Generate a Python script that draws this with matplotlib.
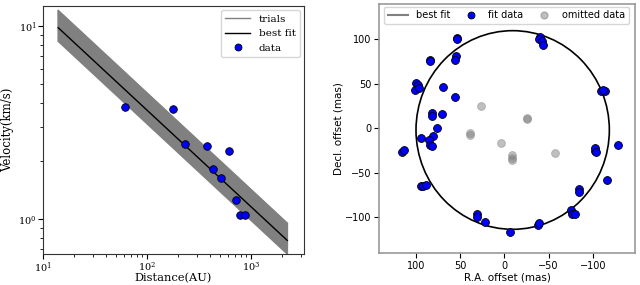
import numpy as np
import matplotlib
matplotlib.use("Agg")
import matplotlib.pyplot as plt
from matplotlib.lines import Line2D
from matplotlib.patches import Ellipse

# ---- left panel data ----
dist_au = [61.8, 176.6, 233, 375, 618, 428, 510, 722, 778, 875]
vel_kms = [3.82, 3.70, 2.45, 2.40, 2.25, 1.81, 1.63, 1.25, 1.05, 1.05]
fit_coef = 36.7          # v = coef * r^-0.5
fit_index = -0.5
trial_factors = np.linspace(0.85, 1.23, 40)
r_range = [14, 2240]

# ---- right panel data ----
fit_ra = [53.6, 54.0, 84.5, 83.8, 55.1, 55.8, 99.6, 97.7, 100.8, 96.2, 69.8, 56.2,
          81.5, 82.3, 70.2, 76.2, 94.3, 80.4, 85.3, 84.2, 81.9, 115.8, 113.2,
          94.7, 91.7, 88.7, 30.9, 30.6, 21.5, -6.8, -38.1, -39.6, -75.8, -77.0,
          -80.4, -84.9, -84.2, -102.6, -103.0, -103.8, -128.7, -116.2, -109.4,
          -114.3, -112.0, -40.4, -39.6, -42.6, -43.4]
fit_dec = [101.1, 100.0, 76.4, 75.6, 81.2, 76.4, 50.5, 48.6, 42.6, 44.8, 46.0, 34.7,
           16.7, 14.1, 16.3, -0.2, -11.4, -9.2, -13.3, -19.3, -19.7, -26.5, -24.2,
           -65.5, -65.1, -64.0, -96.2, -100.0, -106.0, -117.3, -109.0, -106.4,
           -92.1, -96.2, -96.6, -68.9, -71.5, -25.3, -22.7, -27.2, -18.9, -58.7,
           42.2, 41.8, 43.0, 102.6, 100.0, 98.5, 94.0]
omit_ra = [26.0, 4.2, -57.4, 38.5, 38.7, -25.7, -25.9, -8.3, -8.3, -8.2]
omit_dec = [24.6, -16.3, -28.0, -5.8, -8.1, 11.1, 10.0, -30.6, -33.6, -35.5]
circ_center = (-9.4, -2.1)
circ_width = 218.8
circ_height = 223.6

plt.rcParams['mathtext.fontset'] = 'dejavuserif'
fig = plt.figure(figsize=(6.4, 2.85), dpi=100)

# ---------------- left ----------------
ax1 = fig.add_axes([0.0672, 0.1088, 0.4078, 0.870])
r = np.logspace(np.log10(r_range[0]), np.log10(r_range[1]), 50)
for f in trial_factors:
    ax1.plot(r, fit_coef * f * r ** fit_index, color='gray', lw=1.0, zorder=1)
ax1.plot(r, fit_coef * r ** fit_index, color='black', lw=1.0, zorder=2)
ax1.scatter(dist_au, vel_kms, s=30, color='blue', edgecolor='black', lw=0.6, zorder=3)
ax1.set_xscale('log')
ax1.set_yscale('log')
ax1.set_xlim(10, 3240)
ax1.set_ylim(0.66, 12.7)
serif = {'family': 'DejaVu Serif'}
ax1.set_xlabel('Distance(AU)', fontsize=8.2, fontdict=serif)
ax1.set_ylabel('Velocity(km/s)', fontsize=8.5, fontdict=serif)
ax1.xaxis.set_label_coords(0.5, -0.077)
ax1.yaxis.set_label_coords(-0.11, 0.5)
ax1.tick_params(labelsize=7, pad=1)
for lab in ax1.get_xticklabels() + ax1.get_yticklabels():
    lab.set_family('DejaVu Serif')
for s in ax1.spines.values():
    s.set_color('#333333')
handles1 = [Line2D([], [], color='gray', lw=1),
            Line2D([], [], color='black', lw=1),
            Line2D([], [], marker='o', ls='', color='blue', markeredgecolor='black',
                   markeredgewidth=0.6, markersize=5)]
ax1.legend(handles1, ['trials', 'best fit', 'data'], loc='upper right',
           prop={'family': 'DejaVu Serif', 'size': 7.5}, handlelength=2.4,
           borderaxespad=0.4)

# ---------------- right ----------------
ax2 = fig.add_axes([0.5927, 0.1112, 0.40, 0.8747])
ell = Ellipse(circ_center, circ_width, circ_height, fill=False, color='black', lw=1.2)
ax2.add_patch(ell)
ax2.scatter(omit_ra, omit_dec, s=32, color='gray', alpha=0.5, edgecolor='gray', lw=0.6, zorder=3)
ax2.scatter(fit_ra, fit_dec, s=32, color='blue', edgecolor='black', lw=0.6, zorder=4)
ax2.set_xlim(141.5, -148.2)
ax2.set_ylim(-140.9, 139.7)
ax2.set_xticks([100, 50, 0, -50, -100])
ax2.set_yticks([100, 50, 0, -50, -100])
ax2.tick_params(labelsize=7, pad=2)
ax2.set_xlabel('R.A. offset (mas)', fontsize=7.5, labelpad=1)
ax2.set_ylabel('Decl. offset (mas)', fontsize=7.5, labelpad=1)
for s in ax2.spines.values():
    s.set_color('#999999')
    s.set_linewidth(1.2)
handles2 = [Line2D([], [], color='gray', lw=1.5),
            Line2D([], [], marker='o', ls='', color='blue', markeredgecolor='black',
                   markeredgewidth=0.6, markersize=5),
            Line2D([], [], marker='o', ls='', color='gray', alpha=0.5,
                   markeredgecolor='gray', markersize=5)]
ax2.legend(handles2, ['best fit', 'fit data', 'omitted data'], loc='upper left',
           ncol=3, mode='expand', bbox_to_anchor=(0.02, 0.99, 0.955, 0),
           fontsize=7, borderaxespad=0, handlelength=2)

fig.savefig('out.png', dpi=100)
